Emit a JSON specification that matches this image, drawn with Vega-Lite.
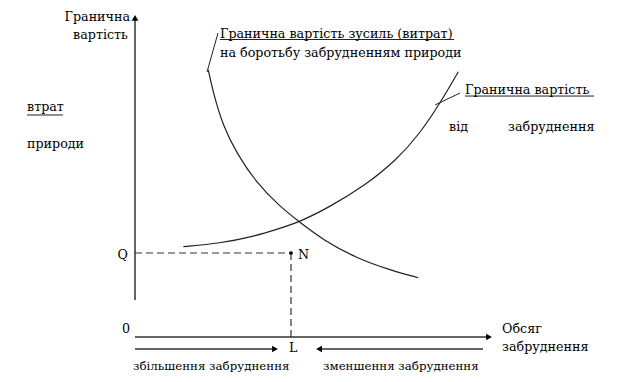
{
  "$schema": "https://vega.github.io/schema/vega-lite/v6.json",
  "width": 629,
  "height": 382,
  "padding": 0,
  "autosize": {"type": "fit", "contains": "padding"},
  "background": "white",
  "config": {"view": {"stroke": null}},
  "datasets": {
    "curves": [
      {"curve": "effort", "x": 2.065, "y": 8.344},
      {"curve": "effort", "x": 2.206, "y": 7.616},
      {"curve": "effort", "x": 2.487, "y": 6.572},
      {"curve": "effort", "x": 2.865, "y": 5.741},
      {"curve": "effort", "x": 3.428, "y": 4.803},
      {"curve": "effort", "x": 4.085, "y": 4.072},
      {"curve": "effort", "x": 4.648, "y": 3.58},
      {"curve": "effort", "x": 5.304, "y": 3.031},
      {"curve": "effort", "x": 6.245, "y": 2.459},
      {"curve": "effort", "x": 7.183, "y": 2.094},
      {"curve": "effort", "x": 7.98, "y": 1.853},
      {"curve": "damage", "x": 1.361, "y": 2.822},
      {"curve": "damage", "x": 2.394, "y": 2.928},
      {"curve": "damage", "x": 3.332, "y": 3.134},
      {"curve": "damage", "x": 4.085, "y": 3.397},
      {"curve": "damage", "x": 4.648, "y": 3.6},
      {"curve": "damage", "x": 5.493, "y": 4.072},
      {"curve": "damage", "x": 6.431, "y": 4.697},
      {"curve": "damage", "x": 7.372, "y": 5.531},
      {"curve": "damage", "x": 8.028, "y": 6.366},
      {"curve": "damage", "x": 8.592, "y": 7.303},
      {"curve": "damage", "x": 9.107, "y": 8.291}
    ],
    "axes": [
      {"x": 0, "y": 1.156, "x2": 0, "y2": 9.97},
      {"x": 0, "y": 0, "x2": 9.972, "y2": 0},
      {"x": 0, "y": -0.375, "x2": 3.944, "y2": -0.375},
      {"x": 9.803, "y": -0.375, "x2": 5.183, "y2": -0.375}
    ],
    "thin": [
      {"x": 2.028, "y": 8.281, "x2": 2.338, "y2": 9.5},
      {"x": 8.451, "y": 7.25, "x2": 9.155, "y2": 7.625},
      {"x": -3.042, "y": 6.9375, "x2": -2.028, "y2": 6.9375},
      {"x": 2.394, "y": 9.297, "x2": 8.986, "y2": 9.297},
      {"x": 9.296, "y": 7.53, "x2": 12.93, "y2": 7.53}
    ],
    "dashed": [
      {"x": 0, "y": 2.625, "x2": 4.394, "y2": 2.625},
      {"x": 4.394, "y": 2.625, "x2": 4.394, "y2": 0}
    ],
    "heads": [
      {"x": 0, "y": 9.97, "shape": "triangle-up"},
      {"x": 9.972, "y": 0, "shape": "triangle-right"},
      {"x": 3.944, "y": -0.375, "shape": "triangle-right"},
      {"x": 5.183, "y": -0.375, "shape": "triangle-left"}
    ],
    "dots": [
      {"x": 4.394, "y": 2.625}
    ],
    "labelsLeft": [
      {"x": -3.042, "y": 7.0625, "text": "втрат"},
      {"x": -3.042, "y": 5.906, "text": "природи"},
      {"x": 2.394, "y": 9.344, "text": "Гранична вартість зусиль (витрат)"},
      {"x": 2.394, "y": 8.75, "text": "на боротьбу забрудненням природи"},
      {"x": 9.296, "y": 7.594, "text": "Гранична  вартість"},
      {"x": 8.845, "y": 6.4375, "text": "від"},
      {"x": 10.507, "y": 6.4375, "text": "забруднення"},
      {"x": 4.592, "y": 2.4375, "text": "N"},
      {"x": -0.366, "y": 0.125, "text": "0"},
      {"x": 4.338, "y": -0.469, "text": "L"},
      {"x": 10.338, "y": 0.125, "text": "Обсяг"},
      {"x": 10.338, "y": -0.4375, "text": "забруднення"}
    ],
    "labelsBottom": [
      {"x": -0.056, "y": -1.031, "text": "збільшення забруднення"},
      {"x": 5.296, "y": -1.031, "text": "зменшення забруднення"}
    ],
    "labelsRight": [
      {"x": -0.141, "y": 9.875, "text": "Гранична"},
      {"x": -0.197, "y": 9.3125, "text": "вартість"},
      {"x": -0.197, "y": 2.4375, "text": "Q"}
    ]
  },
  "encoding": {
    "x": {"field": "x", "type": "quantitative", "axis": null, "scale": {"domain": [-3.803, 13.915], "nice": false, "zero": false}},
    "y": {"field": "y", "type": "quantitative", "axis": null, "scale": {"domain": [-1.406, 10.531], "nice": false, "zero": false}}
  },
  "layer": [
    {
      "data": {"name": "curves"},
      "mark": {"type": "line", "interpolate": "basis", "color": "#222", "strokeWidth": 1.2},
      "encoding": {"detail": {"field": "curve"}}
    },
    {
      "data": {"name": "axes"},
      "mark": {"type": "rule", "color": "#333", "strokeWidth": 1.5},
      "encoding": {"x2": {"field": "x2"}, "y2": {"field": "y2"}}
    },
    {
      "data": {"name": "thin"},
      "mark": {"type": "rule", "color": "#222", "strokeWidth": 1},
      "encoding": {"x2": {"field": "x2"}, "y2": {"field": "y2"}}
    },
    {
      "data": {"name": "dashed"},
      "mark": {"type": "rule", "color": "#333", "strokeWidth": 1.2, "strokeDash": [7, 4]},
      "encoding": {"x2": {"field": "x2"}, "y2": {"field": "y2"}}
    },
    {
      "data": {"name": "heads"},
      "mark": {"type": "point", "filled": true, "color": "black", "size": 45, "opacity": 1},
      "encoding": {"shape": {"field": "shape", "type": "nominal", "scale": null}}
    },
    {
      "data": {"name": "dots"},
      "mark": {"type": "point", "filled": true, "color": "black", "size": 14, "opacity": 1}
    },
    {
      "data": {"name": "labelsLeft"},
      "mark": {"type": "text", "align": "left", "baseline": "alphabetic", "font": "DejaVu Serif", "fontSize": 12.7, "color": "black"},
      "encoding": {"text": {"field": "text"}}
    },
    {
      "data": {"name": "labelsBottom"},
      "mark": {"type": "text", "align": "left", "baseline": "alphabetic", "font": "DejaVu Serif", "fontSize": 11.8, "color": "black"},
      "encoding": {"text": {"field": "text"}}
    },
    {
      "data": {"name": "labelsRight"},
      "mark": {"type": "text", "align": "right", "baseline": "alphabetic", "font": "DejaVu Serif", "fontSize": 12.7, "color": "black"},
      "encoding": {"text": {"field": "text"}}
    }
  ]
}
